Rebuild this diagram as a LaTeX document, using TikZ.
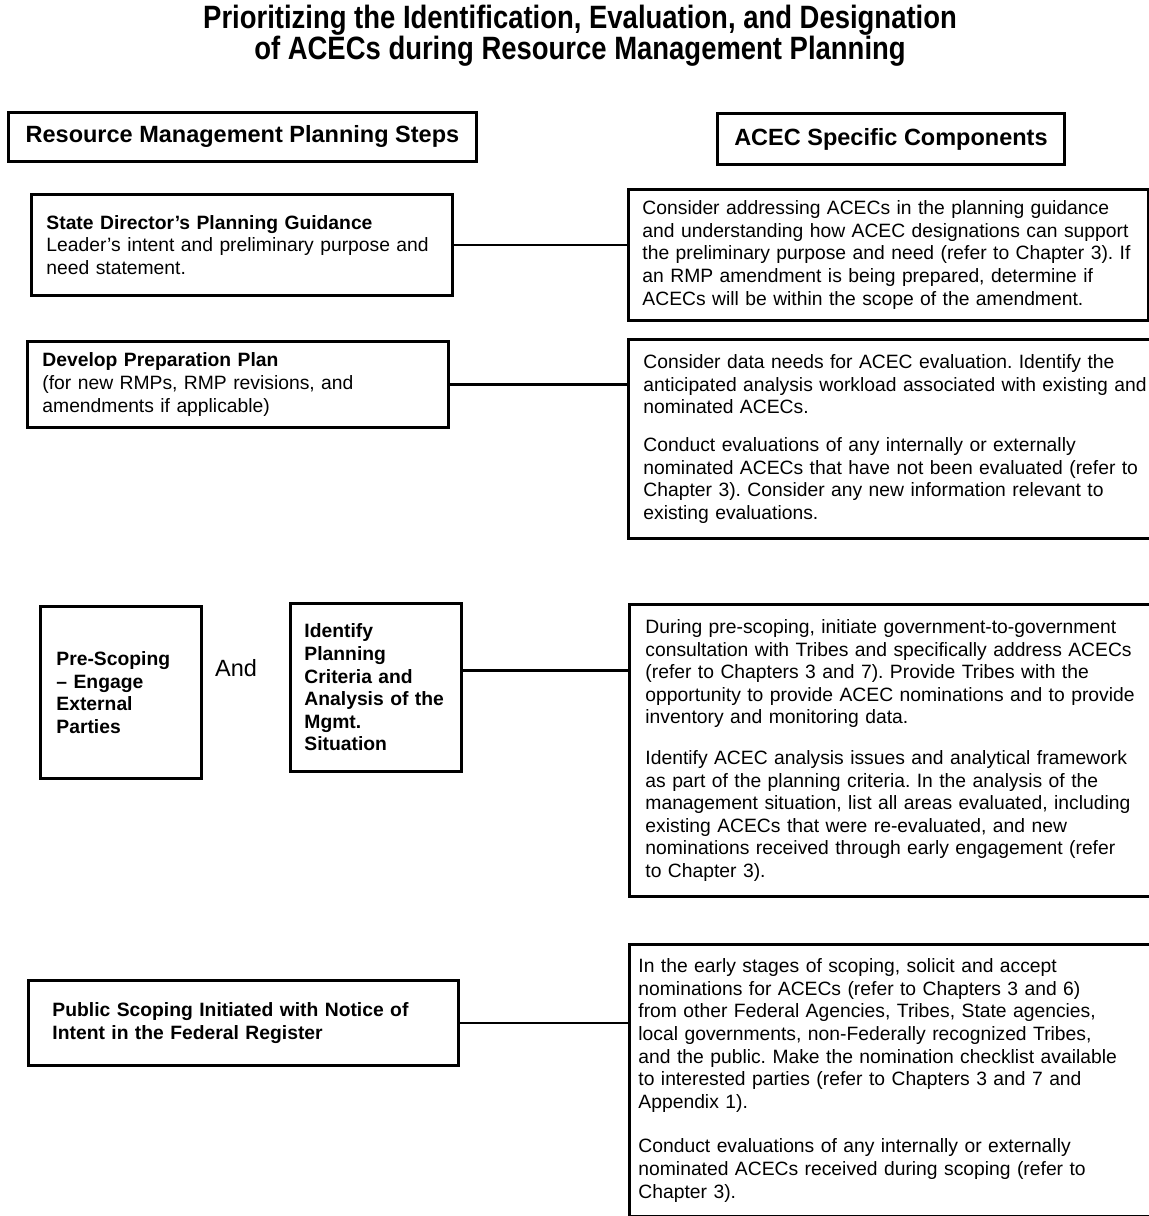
\documentclass[tikz,border=0pt]{standalone}
\usepackage{fontspec}
\setmainfont{Liberation Sans}
\newfontfamily\titlefont[FakeStretch=0.85]{Liberation Sans}
\usepackage{tikz}
\frenchspacing

\begin{document}
\begin{tikzpicture}[x=1pt,y=-1pt,
  stepbox/.style={draw,line width=2.9pt,anchor=north west,align=left,inner ysep=0pt,font=\fontsize{19.3}{22.6}\selectfont},
  headbox/.style={draw,line width=2.9pt,anchor=north west,align=center,font=\fontsize{23.5}{28}\selectfont\bfseries},
  link/.style={line width=2.9pt}]
\useasboundingbox (0,0) rectangle (1149,1216);
\node[align=center,font=\titlefont\bfseries\fontsize{32.3}{30}\selectfont] (title) at (580,36) {Prioritizing the Identification, Evaluation, and Designation\\of ACECs during Resource Management Planning};
\node[headbox,minimum width=468,minimum height=49] (stepshead) at (7,111) {Resource Management Planning Steps};
\node[headbox,minimum width=347,minimum height=51] (acechead) at (716,112) {ACEC Specific Components};
\node[stepbox,minimum height=101,inner xsep=15,text width=391] (guidance) at (30,193) {\textbf{State Director’s Planning Guidance}\\Leader’s intent and preliminary purpose and\\need statement.};
\node[stepbox,minimum height=86,inner xsep=15,text width=391] (prepplan) at (26,340) {\textbf{Develop Preparation Plan}\\(for new RMPs, RMP revisions, and\\amendments if applicable)};
\node[stepbox,minimum height=172,inner xsep=16,text width=129] (prescoping) at (39,605) {\bfseries Pre-Scoping\\-- Engage\\External\\Parties};
\node[font=\fontsize{23.5}{28}\selectfont] (andword) at (236,668) {And};
\node[stepbox,minimum height=168,inner xsep=14,text width=143] (criteria) at (289,602) {\bfseries Identify\\Planning\\Criteria and\\Analysis of the\\Mgmt.\\Situation};
\node[stepbox,minimum height=85,inner xsep=24,text width=382] (scoping) at (27,979) {\bfseries Public Scoping Initiated with Notice of\\Intent in the Federal Register};
\node[stepbox,minimum height=131,inner xsep=14,text width=492] (guidancetext) at (627,188) {Consider addressing ACECs in the planning guidance\\and understanding how ACEC designations can support\\the preliminary purpose and need (refer to Chapter 3). If\\an RMP amendment is being prepared, determine if\\ACECs will be within the scope of the amendment.};
\node[stepbox,minimum height=199,inner xsep=15,text width=530] (preptext) at (627,338) {Consider data needs for ACEC evaluation. Identify the\\anticipated analysis workload associated with existing and\\nominated ACECs.\\[15pt]Conduct evaluations of any internally or externally\\nominated ACECs that have not been evaluated (refer to\\Chapter 3). Consider any new information relevant to\\existing evaluations.\\[-4pt]};
\node[stepbox,minimum height=292,inner xsep=16,text width=528] (tribestext) at (628,603) {During pre-scoping, initiate government-to-government\\consultation with Tribes and specifically address ACECs\\(refer to Chapters 3 and 7). Provide Tribes with the\\opportunity to provide ACEC nominations and to provide\\inventory and monitoring data.\\[18pt]Identify ACEC analysis issues and analytical framework\\as part of the planning criteria. In the analysis of the\\management situation, list all areas evaluated, including\\existing ACECs that were re-evaluated, and new\\nominations received through early engagement (refer\\to Chapter 3).\\[-8pt]};
\node[stepbox,minimum height=272,inner xsep=9,text width=542] (nominationtext) at (628,943) {In the early stages of scoping, solicit and accept\\nominations for ACECs (refer to Chapters 3 and 6)\\from other Federal Agencies, Tribes, State agencies,\\local governments, non-Federally recognized Tribes,\\and the public. Make the nomination checklist available\\to interested parties (refer to Chapters 3 and 7 and\\Appendix 1).\\[22pt]Conduct evaluations of any internally or externally\\nominated ACECs received during scoping (refer to\\Chapter 3).\\[-8pt]};
\draw[link] (guidance.east) -- (guidance.east -| guidancetext.west);
\draw[link] (prepplan.east) -- (prepplan.east -| preptext.west);
\draw[link] ([yshift=17pt]criteria.east) -- ([yshift=17pt]criteria.east -| tribestext.west);
\draw[link] (scoping.east) -- (scoping.east -| nominationtext.west);
\end{tikzpicture}
\end{document}
